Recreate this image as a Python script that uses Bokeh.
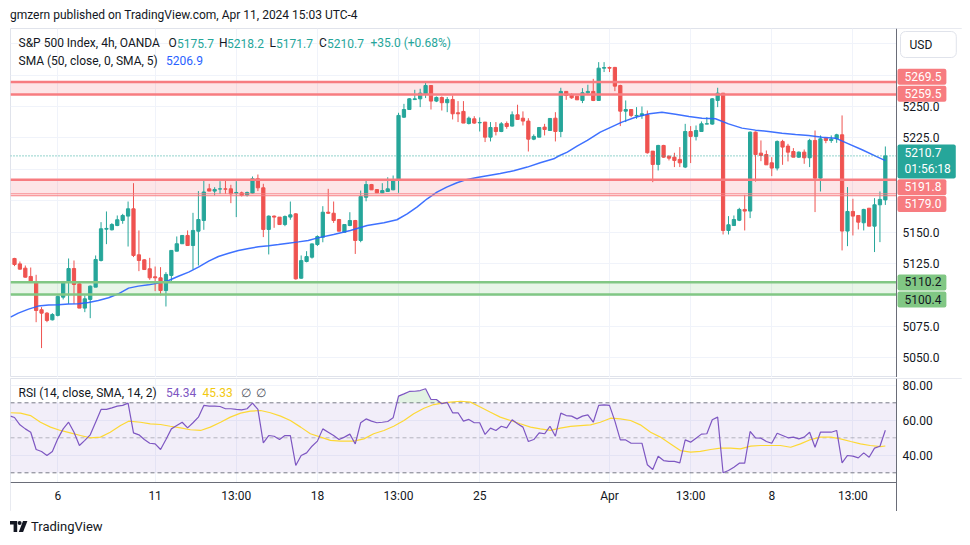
import numpy as np
from bokeh.plotting import figure
from bokeh.models import (Range1d, LinearAxis, FixedTicker, Grid, BoxAnnotation,
                          Label, ColumnDataSource, Div, NumeralTickFormatter)
from bokeh.layouts import column
from bokeh.embed import file_html
from bokeh.resources import INLINE

# ---------------- data ----------------
open_ = [5129.1, 5124.8, 5121.4, 5114.8, 5110.8, 5088.3, 5085.6, 5080.3, 5083.8, 5098.3,
         5110.0, 5121.1, 5108.9, 5089.6, 5096.5, 5106.3, 5127.5, 5152.4, 5151.9, 5155.3,
         5159.3, 5162.8, 5168.6, 5132.0, 5128.0, 5120.9, 5114.5, 5113.7, 5103.6, 5115.6,
         5134.9, 5140.8, 5147.4, 5139.4, 5150.8, 5159.3, 5184.5, 5182.7, 5184.3, 5184.5,
         5184.5, 5181.1, 5181.3, 5179.5, 5181.1, 5192.5, 5185.3, 5152.2, 5162.8, 5162.0,
         5156.1, 5162.0, 5164.6, 5113.4, 5126.7, 5130.1, 5140.2, 5146.0, 5165.9, 5165.1,
         5160.1, 5150.0, 5155.3, 5159.3, 5143.4, 5177.8, 5187.9, 5183.9, 5181.3, 5182.4,
         5183.7, 5191.2, 5241.5, 5247.6, 5255.5, 5256.1, 5260.1, 5266.7, 5254.3, 5257.2,
         5253.0, 5255.6, 5245.0, 5246.1, 5236.5, 5240.2, 5237.0, 5237.6, 5225.6, 5233.3,
         5230.1, 5236.5, 5234.4, 5243.4, 5240.7, 5238.4, 5224.0, 5225.6, 5233.6, 5230.9,
         5240.7, 5230.1, 5262.0, 5259.3, 5258.2, 5254.8, 5260.9, 5262.0, 5254.8, 5280.5,
         5281.0, 5281.1, 5266.7, 5246.3, 5247.6, 5242.6, 5242.9, 5243.4, 5214.5, 5203.9,
         5219.0, 5210.5, 5209.7, 5207.9, 5201.8, 5230.1, 5226.2, 5230.1, 5236.0, 5236.0,
         5254.8, 5260.6, 5151.4, 5155.3, 5159.5, 5168.1, 5166.8, 5229.6, 5212.9, 5211.8,
         5205.2, 5201.0, 5222.2, 5218.5, 5214.2, 5209.7, 5213.7, 5209.2, 5223.0, 5193.0,
         5224.8, 5223.0, 5224.3, 5227.5, 5150.9, 5166.5, 5163.3, 5157.5, 5169.1, 5154.8,
         5171.8, 5175.7]
high = [5129.6, 5126.7, 5123.5, 5121.9, 5116.1, 5090.4, 5086.4, 5085.6, 5099.7, 5110.8,
        5129.1, 5127.5, 5109.5, 5099.7, 5107.6, 5131.5, 5158.0, 5166.5, 5157.2, 5163.3,
        5164.6, 5174.4, 5189.0, 5151.4, 5128.5, 5129.6, 5122.7, 5122.2, 5118.2, 5135.5,
        5146.6, 5147.4, 5151.4, 5165.4, 5182.7, 5191.1, 5188.5, 5185.8, 5190.6, 5191.1,
        5187.7, 5190.6, 5182.3, 5182.3, 5194.3, 5195.9, 5188.5, 5163.3, 5163.3, 5162.0,
        5163.3, 5174.4, 5165.1, 5131.5, 5134.9, 5141.0, 5147.5, 5170.7, 5184.5, 5174.4,
        5160.6, 5156.1, 5165.9, 5159.8, 5183.1, 5191.6, 5188.4, 5184.2, 5189.0, 5193.7,
        5195.1, 5245.0, 5252.1, 5256.7, 5263.3, 5264.1, 5269.9, 5267.0, 5258.0, 5258.0,
        5257.5, 5258.8, 5254.3, 5254.3, 5242.0, 5242.3, 5241.3, 5237.6, 5237.6, 5237.6,
        5237.6, 5238.1, 5246.1, 5251.4, 5246.1, 5240.7, 5227.8, 5233.6, 5236.2, 5240.5,
        5245.5, 5264.9, 5262.0, 5260.6, 5258.2, 5264.6, 5267.3, 5272.0, 5285.3, 5285.3,
        5281.8, 5281.5, 5267.3, 5254.8, 5247.6, 5249.5, 5250.0, 5246.8, 5214.5, 5219.5,
        5219.5, 5211.0, 5213.2, 5217.7, 5236.2, 5234.4, 5234.9, 5238.1, 5241.5, 5256.7,
        5264.9, 5260.6, 5162.8, 5163.3, 5169.4, 5179.7, 5230.1, 5230.1, 5223.0, 5215.0,
        5209.7, 5223.0, 5223.5, 5220.3, 5216.9, 5214.2, 5215.8, 5224.3, 5230.9, 5227.0,
        5224.8, 5227.0, 5228.3, 5242.9, 5185.9, 5176.6, 5163.3, 5168.6, 5169.1, 5177.1,
        5182.4, 5218.2]
low = [5123.0, 5120.3, 5114.0, 5109.7, 5078.4, 5057.8, 5078.4, 5079.8, 5083.0, 5096.5,
       5093.0, 5093.0, 5089.6, 5086.4, 5081.6, 5106.3, 5126.7, 5140.5, 5151.4, 5154.8,
       5156.7, 5138.6, 5130.2, 5119.0, 5120.0, 5112.1, 5103.1, 5099.7, 5090.9, 5110.8,
       5134.9, 5140.8, 5139.4, 5120.3, 5123.5, 5151.9, 5182.7, 5179.2, 5180.5, 5180.5,
       5173.1, 5162.0, 5178.4, 5178.4, 5180.5, 5182.7, 5146.1, 5132.3, 5153.5, 5156.1,
       5154.8, 5159.9, 5112.3, 5113.0, 5126.0, 5129.0, 5139.0, 5142.0, 5164.6, 5157.4,
       5150.8, 5150.0, 5154.8, 5132.7, 5142.0, 5174.6, 5183.7, 5181.3, 5181.0, 5182.1,
       5183.4, 5181.3, 5241.0, 5247.3, 5255.2, 5249.5, 5256.7, 5247.6, 5253.5, 5246.8,
       5245.5, 5239.7, 5237.6, 5236.8, 5235.7, 5236.2, 5230.1, 5221.7, 5222.2, 5227.0,
       5229.6, 5232.3, 5234.1, 5239.4, 5234.9, 5214.2, 5223.2, 5225.6, 5227.0, 5230.9,
       5222.2, 5225.6, 5255.3, 5256.1, 5255.3, 5252.7, 5259.3, 5254.3, 5254.8, 5277.4,
       5277.4, 5262.2, 5234.4, 5237.6, 5241.5, 5240.2, 5240.2, 5212.5, 5189.8, 5199.1,
       5209.2, 5207.1, 5201.8, 5201.8, 5201.0, 5205.0, 5223.0, 5230.1, 5236.0, 5235.5,
       5249.5, 5148.2, 5148.2, 5155.3, 5158.8, 5151.4, 5161.2, 5190.2, 5206.5, 5203.6,
       5194.6, 5199.1, 5203.6, 5206.3, 5209.7, 5209.2, 5204.4, 5201.8, 5166.0, 5182.4,
       5220.8, 5221.1, 5221.1, 5135.5, 5138.9, 5147.4, 5152.2, 5151.4, 5154.8, 5134.2,
       5142.1, 5171.7]
close = [5124.3, 5120.6, 5114.2, 5110.3, 5087.7, 5085.6, 5079.8, 5084.5, 5098.9, 5110.8,
         5121.1, 5108.4, 5089.6, 5097.0, 5107.1, 5128.3, 5152.7, 5153.0, 5156.1, 5159.9,
         5163.3, 5168.6, 5131.5, 5127.5, 5120.3, 5113.7, 5113.7, 5103.6, 5116.4, 5135.5,
         5140.8, 5147.4, 5139.4, 5151.4, 5160.1, 5182.0, 5182.7, 5184.0, 5184.5, 5184.2,
         5180.5, 5181.6, 5179.2, 5181.6, 5192.5, 5185.3, 5152.2, 5162.8, 5162.0, 5156.1,
         5162.5, 5163.8, 5112.9, 5127.4, 5130.6, 5140.7, 5146.5, 5165.9, 5165.1, 5159.3,
         5150.8, 5156.1, 5159.3, 5143.4, 5178.4, 5187.9, 5183.7, 5181.3, 5183.1, 5184.5,
         5191.1, 5242.9, 5247.6, 5256.1, 5256.1, 5260.6, 5266.7, 5254.3, 5257.2, 5253.0,
         5255.6, 5244.2, 5244.2, 5236.8, 5240.7, 5236.8, 5237.3, 5225.6, 5233.3, 5230.1,
         5236.2, 5234.1, 5243.4, 5239.7, 5238.4, 5224.0, 5226.2, 5233.3, 5231.7, 5240.5,
         5230.1, 5262.0, 5258.8, 5256.9, 5255.3, 5260.9, 5262.0, 5254.8, 5280.5, 5281.0,
         5280.5, 5266.2, 5246.3, 5247.6, 5242.9, 5242.9, 5244.2, 5213.2, 5203.9, 5219.0,
         5209.7, 5208.9, 5207.1, 5205.2, 5230.1, 5226.2, 5230.9, 5236.2, 5236.3, 5256.1,
         5260.6, 5151.4, 5155.9, 5160.1, 5168.1, 5166.8, 5229.6, 5211.8, 5211.0, 5203.6,
         5201.0, 5222.2, 5217.7, 5213.7, 5209.7, 5213.7, 5209.2, 5223.0, 5193.0, 5224.3,
         5223.0, 5224.0, 5227.5, 5150.9, 5166.5, 5162.8, 5158.0, 5168.1, 5154.8, 5171.8,
         5176.1, 5210.7]

# SMA(50) line, read at sample bars
sma_bar = [-0.74, 0.7, 2.6, 4.4, 6.3, 8.1, 10.0, 11.8, 13.7, 15.5, 17.4, 19.2, 21.1, 22.9,
           24.8, 26.6, 28.5, 30.3, 32.2, 34.0, 35.9, 37.7, 39.6, 41.4, 43.3, 45.1, 47.0,
           48.8, 50.6, 52.5, 54.3, 55.9, 59.0, 62.1, 65.2, 68.3, 70.7, 72.6, 74.4, 76.3,
           78.1, 79.9, 81.8, 83.7, 85.5, 87.4, 89.8, 92.3, 94.8, 97.2, 99.7, 100.6, 102.2,
           104.0, 105.9, 108.3, 109.9, 112.3, 114.8, 117.4, 119.7, 122.2, 124.7, 127.1,
           129.6, 132.0, 134.5, 137.0, 139.4, 141.9, 144.4, 146.8, 149.3, 151.8, 154.2,
           156.7, 159.2, 161.0]
sma_val = [5082.4, 5085.6, 5088.8, 5091.2, 5092.0, 5092.2, 5092.8, 5093.0, 5094.1, 5095.7,
           5097.8, 5101.0, 5105.5, 5107.1, 5108.1, 5109.5, 5111.6, 5115.0, 5118.2, 5122.2,
           5127.0, 5130.7, 5133.3, 5135.5, 5137.0, 5138.4, 5139.2, 5140.2, 5141.3, 5142.3,
           5143.4, 5145.3, 5148.2, 5151.4, 5155.4, 5157.5, 5159.9, 5164.6, 5170.0, 5176.6,
           5181.9, 5185.9, 5189.3, 5192.0, 5193.5, 5194.9, 5196.7, 5198.9, 5201.8, 5205.2,
           5208.4, 5210.6, 5213.7, 5218.5, 5223.0, 5229.6, 5232.8, 5237.6, 5241.5, 5244.2,
           5245.5, 5243.9, 5242.1, 5240.7, 5240.2, 5236.2, 5232.8, 5231.2, 5230.1, 5228.8,
           5227.8, 5227.0, 5225.6, 5224.8, 5220.3, 5215.6, 5210.5, 5206.9]

# RSI(14) per bar, plus the reading at the left edge of the pane
rsi_edge = 62.4
rsi_val = [61.6, 57.4, 55.1, 53.2, 43.3, 42.2, 39.9, 42.2, 49.4, 55.1,
           58.9, 53.2, 45.6, 48.5, 51.7, 58.9, 66.2, 66.2, 67.1, 68.1,
           68.5, 69.8, 52.8, 51.7, 49.0, 46.9, 46.5, 43.3, 49.0, 55.1,
           57.0, 58.9, 55.7, 58.6, 61.8, 68.5, 68.1, 68.1, 67.9, 66.6,
           66.6, 66.2, 66.0, 66.6, 69.8, 66.2, 47.1, 51.3, 50.9, 49.0,
           51.3, 51.3, 34.2, 39.9, 41.4, 45.2, 48.1, 55.1, 53.2, 51.3,
           49.0, 50.4, 52.1, 46.5, 58.6, 60.8, 59.5, 58.6, 58.9, 59.3,
           61.4, 73.8, 75.1, 76.5, 76.6, 77.0, 78.0, 71.9, 71.9, 69.5,
           70.2, 64.3, 64.3, 59.5, 60.5, 58.6, 58.6, 51.9, 55.5, 54.2,
           56.6, 55.7, 60.3, 58.0, 56.1, 47.9, 49.0, 52.8, 52.3, 56.6,
           50.9, 64.1, 62.7, 62.4, 60.8, 62.4, 63.1, 58.9, 68.5, 68.8,
           68.5, 59.5, 48.8, 48.8, 46.9, 46.9, 46.9, 34.6, 31.9, 39.5,
           37.0, 36.5, 36.5, 35.7, 48.8, 47.5, 49.8, 52.1, 52.3, 60.3,
           61.8, 30.0, 31.3, 33.2, 35.5, 35.5, 53.6, 50.0, 49.8, 47.9,
           46.9, 52.6, 51.3, 50.0, 50.4, 49.4, 50.4, 53.2, 44.6, 53.2,
           53.2, 53.2, 54.2, 35.7, 39.9, 39.5, 38.5, 41.4, 38.9, 44.1,
           45.2, 54.34]

# SMA(14) of RSI, read at sample bars
rsi_sma_bar = [-0.74, 1.1, 2.96, 4.8, 6.65, 8.5, 10.3, 12.2, 14.0, 15.9, 17.7, 19.6, 21.1,
               23.3, 25.1, 27.0, 28.8, 30.7, 32.5, 34.4, 36.2, 38.1, 39.9, 41.8, 43.6, 45.5,
               47.3, 49.2, 51.0, 52.9, 54.7, 56.6, 58.4, 60.3, 62.7, 64.6, 66.4, 68.3, 70.1,
               72.0, 73.8, 75.7, 77.5, 79.4, 80.6, 82.5, 84.3, 86.2, 88.0, 89.8, 91.7, 93.5,
               95.4, 97.2, 99.1, 100.9, 102.8, 104.6, 106.5, 108.3, 110.2, 112.0, 113.9,
               115.7, 117.6, 119.4, 121.3, 123.1, 125.0, 126.8, 128.7, 130.5, 132.4, 134.2,
               136.1, 137.9, 139.8, 141.6, 143.5, 145.3, 147.2, 149.0, 150.9, 152.7, 154.6,
               156.4, 158.2, 160.1, 161.0]
rsi_sma_val = [64.3, 64.1, 62.7, 58.9, 56.1, 54.2, 52.8, 51.3, 50.0, 50.4, 53.2, 57.0, 59.5,
               58.9, 58.0, 57.6, 56.6, 55.7, 54.6, 54.2, 56.1, 58.9, 61.8, 64.1, 65.2, 65.6,
               64.3, 62.4, 59.9, 56.1, 52.3, 50.4, 48.5, 48.1, 48.1, 49.4, 52.3, 54.2, 56.6,
               59.9, 63.7, 66.9, 69.0, 70.0, 70.4, 70.9, 70.4, 67.5, 64.6, 61.8, 59.9, 58.0,
               56.1, 55.1, 54.2, 55.5, 56.5, 57.0, 57.4, 58.9, 61.2, 60.8, 59.9,
               57.4, 53.2, 50.4, 46.5, 42.7, 41.8, 42.2, 43.3, 44.1, 44.1, 43.7,
               45.2, 45.6, 45.6, 45.6, 44.6, 46.5, 49.0, 50.4, 50.4, 49.4, 47.9,
               46.5, 45.6, 45.0, 45.33]

tick_bars = [8, 26, 41, 56, 71, 86, 110, 125, 140, 155]
tick_labels = ["6", "11", "13:00", "18", "13:00", "25", "Apr", "13:00", "8", "13:00"]
price_ticks = [5050, 5075, 5125, 5150, 5225, 5250]
price_grid = [5050, 5075, 5100, 5125, 5150, 5175, 5200, 5225, 5250, 5275, 5300]
rsi_ticks = [40, 60, 80]

red_zone_top = (5259.5, 5269.5)
red_zone_low = (5180.5, 5191.8)
red_line = 5179.0
green_zone = (5100.4, 5110.2)
last_price = 5210.7
countdown = "01:56:18"
sma_last = 5206.9
rsi_last, rsi_sma_last = 54.34, 45.33

# ---------------- layout helpers (page pixels -> data) ----------------
X0, DX = 14.0, 5.409
def bx(px):
    return (px - X0) / DX
def py(px):
    return 5250 - (px - 106.0) / 1.257
def ry(px):
    return 50 + (437.3 - px) / 1.75

UP, DOWN = "#26a69a", "#ef5350"
RED_LINE, GREEN_LINE = "#f77c80", "#81c784"
GRID = "#f0f3fa"
TXT = "#131722"
FONT = "Roboto"
W = 962
XL, XS = bx(10), bx(896)      # left edge of panes, position of the price scale line

x_range = Range1d(bx(10), bx(962))

def base_fig(height, y_range, top, bottom):
    f = figure(width=W, height=height, x_range=x_range, y_range=y_range,
               output_backend="svg", toolbar_location=None,
               min_border_left=10, min_border_right=0, min_border_top=top,
               min_border_bottom=bottom, x_axis_location=None, y_axis_location=None)
    f.outline_line_color = "#e0e3eb"
    f.grid.visible = False
    f.add_layout(Grid(dimension=0, ticker=FixedTicker(ticks=tick_bars),
                      grid_line_color=GRID, grid_line_width=1))
    return f

def cover(fig, **kw):
    fig.add_layout(BoxAnnotation(fill_color="white", fill_alpha=1.0, line_alpha=0,
                                 level="glyph", **kw))

def scale_axis(fig, ticks, fmt):
    ax = LinearAxis(ticker=FixedTicker(ticks=ticks), formatter=NumeralTickFormatter(format=fmt),
                    fixed_location=XS,
                    major_tick_line_color=None, minor_tick_line_color=None,
                    major_tick_out=0, major_tick_in=0, minor_tick_out=0,
                    axis_line_color="#6a6d78", major_label_text_font=FONT,
                    major_label_text_font_size="12px", major_label_text_color=TXT,
                    major_label_standoff=6)
    fig.add_layout(ax, "right")

def lab(fig, x, y, text, color=TXT, **kw):
    fig.add_layout(Label(x=x, y=y, text=text, text_color=color, text_font=FONT,
                         text_font_size="12px", text_baseline="middle",
                         text_align="left", **kw))

def hline(fig, yv, color, width, dash="solid"):
    fig.segment(x0=[XL], y0=[yv], x1=[XS], y1=[yv], line_color=color, line_width=width,
                line_dash=dash)

# ---------------- price pane ----------------
p = base_fig(349, Range1d(py(377), py(28)), 0, 0)
p.add_layout(Grid(dimension=1, ticker=FixedTicker(ticks=price_grid), grid_line_color=GRID))
cover(p, left=XS)

for lo_, hi_, col in ((red_zone_top[0], red_zone_top[1], "#f23645"),
                      (red_zone_low[0], red_zone_low[1], "#f23645"),
                      (green_zone[0], green_zone[1], "#4caf50")):
    p.add_layout(BoxAnnotation(bottom=lo_, top=hi_, right=XS, fill_color=col,
                               fill_alpha=0.13, line_alpha=0, level="underlay"))

o = np.array(open_); h = np.array(high); l = np.array(low); c = np.array(close)
idx = np.arange(len(c))
for mask, col in ((c >= o, UP), (c < o, DOWN)):
    src = ColumnDataSource(dict(x=idx[mask], hi=h[mask], lo=l[mask],
                                top=np.maximum(o, c)[mask], bot=np.minimum(o, c)[mask]))
    p.segment(x0="x", y0="lo", x1="x", y1="hi", line_color=col, line_width=1, source=src)
    p.vbar(x="x", width=0.6, top="top", bottom="bot", fill_color=col, line_color=col,
           line_width=1, source=src)

p.line(sma_bar, sma_val, line_color="#2962ff", line_width=1.5, line_alpha=0.9)

for v in red_zone_top:
    hline(p, v, RED_LINE, 2.5)
hline(p, red_zone_low[1], RED_LINE, 2.5)
hline(p, red_zone_low[0], RED_LINE, 1)
hline(p, red_line, RED_LINE, 1)
for v in green_zone:
    hline(p, v, GREEN_LINE, 2.5)
hline(p, last_price, UP, 1, "1 2")

scale_axis(p, price_ticks, "0.0")

# legend rows
chg = close[-1] - open_[-1]
row1 = [("S&P 500 Index, 4h, OANDA", 18, TXT), ("O", 168, TXT), (f"{open_[-1]:.1f}", 176.5, UP),
        ("H", 218.5, TXT), (f"{high[-1]:.1f}", 226.5, UP), ("L", 269, TXT),
        (f"{low[-1]:.1f}", 275.5, UP), ("C", 318.5, TXT), (f"{close[-1]:.1f}", 326.5, UP),
        (f"+{chg:.1f} (+{chg / open_[-1] * 100:.2f}%)", 370, UP)]
for t, xp, col in row1:
    lab(p, bx(xp), py(42.7), t, col)
lab(p, bx(18), py(60), "SMA (50, close, 0, SMA, 5)", TXT)
lab(p, bx(165.5), py(60), f"{sma_last:.1f}", "#2962ff")

# price-scale tags (box starts at the scale line, text padded inside)
def tag(ypage, text, bg, fg, pad_v=(3, 4)):
    lab(p, bx(897), py(ypage), text, fg, background_fill_color=bg, background_fill_alpha=1.0,
        padding=dict(left=7, right=5, top=pad_v[0], bottom=pad_v[1]), border_radius=2)
tag(76.2, f"{red_zone_top[1]:.1f}", RED_LINE, "white")
tag(93.2, f"{red_zone_top[0]:.1f}", RED_LINE, "white")
tag(161.0, f"{last_price:.1f}\n{countdown}", UP, "white", (1, 2))
tag(186.8, f"{red_zone_low[1]:.1f}", RED_LINE, "white")
tag(203.6, f"{red_line:.1f}", RED_LINE, "white")
tag(281.9, f"{green_zone[1]:.1f}", GREEN_LINE, TXT)
tag(299.1, f"{green_zone[0]:.1f}", GREEN_LINE, TXT)

lab(p, bx(900), py(44), "USD", TXT, background_fill_color="white", background_fill_alpha=1.0,
    border_line_color="#e0e3eb", border_line_width=1,
    padding=dict(left=9, right=24, top=6, bottom=6), border_radius=5)

# ---------------- RSI pane (with the time scale inside its frame) ----------------
r = base_fig(134, Range1d(ry(511), ry(378)), 1, 0)
r.add_layout(Grid(dimension=1, ticker=FixedTicker(ticks=rsi_ticks), grid_line_color=GRID))
cover(r, left=XS)
cover(r, top=ry(482))
r.add_layout(BoxAnnotation(bottom=30, top=70, right=XS, fill_color="#7e57c2", fill_alpha=0.1,
                           line_alpha=0, level="underlay"))
for v, a in ((70, 1.0), (50, 0.5), (30, 1.0)):
    r.segment(x0=[XL], y0=[v], x1=[XS], y1=[v], line_color="#787b86", line_alpha=a,
              line_width=1, line_dash="4 3")

rx = [bx(10)] + list(range(len(rsi_val)))
rv = [rsi_edge] + rsi_val

def above(xs, ys, level):
    fx, fy = [], []
    for k in range(len(xs) - 1):
        x0, y0, x1, y1 = xs[k], ys[k], xs[k + 1], ys[k + 1]
        fx.append(x0); fy.append(max(y0, level))
        if (y0 - level) * (y1 - level) < 0:
            t = (level - y0) / (y1 - y0)
            fx.append(x0 + t * (x1 - x0)); fy.append(level)
    fx.append(xs[-1]); fy.append(max(ys[-1], level))
    return fx, fy

fx, fy = above(rx, rv, 70)
r.varea(x=fx, y1=[70] * len(fx), y2=fy, fill_color="#4caf50", fill_alpha=0.16)
r.line(rsi_sma_bar, rsi_sma_val, line_color="#fdd835", line_width=1.2)
r.line(rx, rv, line_color="#7e57c2", line_width=1.2)

scale_axis(r, rsi_ticks, "0.00")

xa = LinearAxis(ticker=FixedTicker(ticks=tick_bars), bounds=(XL, XS), fixed_location=ry(482),
                major_label_overrides={b: t for b, t in zip(tick_bars, tick_labels)},
                major_tick_line_color=None, minor_tick_line_color=None, major_tick_out=0,
                major_tick_in=0, minor_tick_out=0, axis_line_color="#6a6d78",
                major_label_text_font=FONT, major_label_text_font_size="12px",
                major_label_text_color=TXT, major_label_standoff=6)
r.add_layout(xa, "below")

ly = ry(392.3)
lab(r, bx(18), ly, "RSI (14, close, SMA, 14, 2)", TXT)
lab(r, bx(165.5), ly, f"{rsi_last:.2f}", "#7e57c2")
lab(r, bx(202), ly, f"{rsi_sma_last:.2f}", "#f2c90f")
lab(r, bx(240), ly, "∅", "#50535e")
lab(r, bx(255), ly, "∅", "#50535e")

# ---------------- header / footer ----------------
header = Div(text='<div style="font-family:Roboto;font-size:12px;color:#131722;'
                  'line-height:14px;padding:8px 0 0 10px;margin:0;white-space:nowrap">'
                  'gmzern published on TradingView.com, Apr 11, 2024 15:03 UTC-4</div>',
             width=W, height=28, margin=(0, 0, 0, 0))
logo = ('<svg width="18" height="11" viewBox="0 0 18 11" style="vertical-align:-1px">'
        '<path d="M0 0H7.2V11H3.6V3.4H0Z" fill="#131722"/>'
        '<circle cx="9.6" cy="2" r="2" fill="#131722"/>'
        '<path d="M13 0H17.4L13.1 11H8.8Z" fill="#131722"/></svg>')
footer = Div(text='<div style="font-family:Roboto;font-size:13px;color:#131722;'
                  'line-height:14px;padding:9px 0 0 10px;margin:0;white-space:nowrap">'
                  + logo + ' TradingView</div>', width=W, height=30, margin=(0, 0, 0, 0))

layout = column(header, p, r, footer, spacing=0)
open("out.html", "w").write(file_html(layout, INLINE))
